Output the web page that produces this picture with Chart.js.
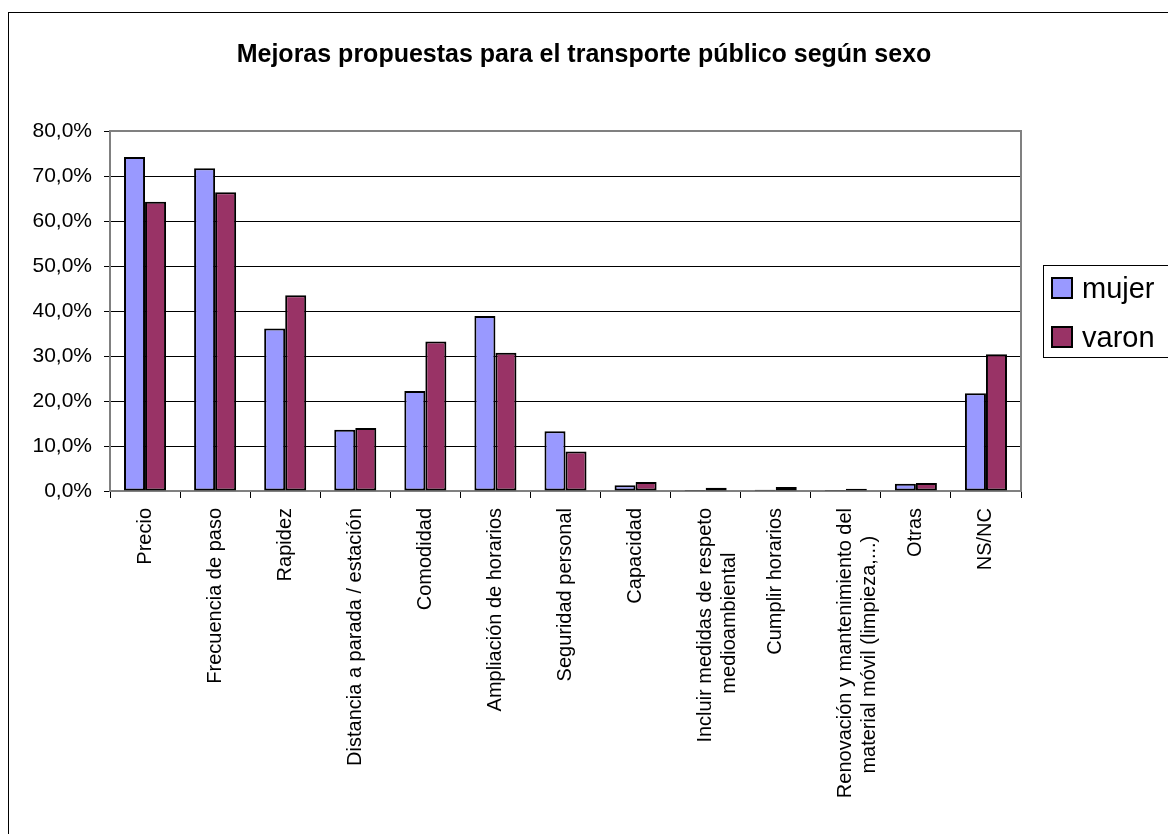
<!DOCTYPE html>
<html>
<head>
<meta charset="utf-8">
<script src="https://cdn.jsdelivr.net/npm/chart.js@4.4.1/dist/chart.umd.min.js"></script>
<style>
  html, body { margin: 0; padding: 0; background: #fff; }
  #wrap { position: relative; width: 1168px; height: 834px; }
</style>
</head>
<body>
<div id="wrap"><canvas id="chart" width="1168" height="834"></canvas></div>
<script>
const categories = [
  "Precio",
  "Frecuencia de paso",
  "Rapidez",
  "Distancia a parada / estación",
  "Comodidad",
  "Ampliación de horarios",
  "Seguridad personal",
  "Capacidad",
  ["Incluir medidas de respeto", "medioambiental"],
  "Cumplir horarios",
  ["Renovación y mantenimiento del", "material móvil (limpieza,...)"],
  "Otras",
  "NS/NC",
];
const mujerValues = [74.2, 71.7, 36.1, 13.6, 22.2, 38.9, 13.3, 1.3, 0.2, 0.3, 0.2, 1.6, 21.7];
const varonValues = [64.3, 66.4, 43.5, 14.0, 33.2, 30.7, 8.8, 2.0, 0.7, 0.9, 0.5, 1.8, 30.4];
const seriesNames = ["mujer", "varon"];
const seriesColors = ["#9999FF", "#993366"];
const yTicks = [0, 10, 20, 30, 40, 50, 60, 70, 80];

const FONT = "'Liberation Sans', Arial, sans-serif";
const xLabelFont = { family: FONT, size: 20 };

// centre the shorter line of a two-line label (Chart.js right-aligns rotated lines)
const measureCtx = document.createElement("canvas").getContext("2d");
measureCtx.font = xLabelFont.size + "px " + FONT;
function centreLines(lines) {
  if (!Array.isArray(lines)) return lines;
  const widths = lines.map((l) => measureCtx.measureText(l).width);
  const max = Math.max(...widths);
  const space = measureCtx.measureText(" ").width;
  return lines.map((l, i) => l + " ".repeat(Math.round((max - widths[i]) / 2 / space)));
}

const frame = {
  id: "frame",
  beforeDraw(chart) {
    const c = chart.ctx;
    c.save();
    c.fillStyle = "#fff";
    c.fillRect(0, 0, chart.width, chart.height);
    c.strokeStyle = "#000";
    c.lineWidth = 1;
    c.strokeRect(8.5, 12.5, chart.width + 20, chart.height);
    c.restore();
  },
  afterDraw(chart) {
    const c = chart.ctx;
    const a = chart.chartArea;
    c.save();
    c.strokeStyle = "#808080";
    c.lineWidth = 2;
    c.beginPath();
    c.moveTo(a.left, a.top);
    c.lineTo(a.right, a.top);
    c.lineTo(a.right, a.bottom);
    c.stroke();

    // legend box
    c.lineWidth = 1;
    c.strokeStyle = "#000";
    c.strokeRect(1043.5, 265.5, 140, 92);
    c.font = "29px " + FONT;
    c.textBaseline = "alphabetic";
    seriesNames.forEach((name, i) => {
      const y = 278 + i * 49;
      c.fillStyle = seriesColors[i];
      c.fillRect(1052, y, 20, 20);
      c.strokeStyle = "#000";
      c.lineWidth = 2;
      c.strokeRect(1052, y, 20, 20);
      c.fillStyle = "#000";
      c.fillText(name, 1082, y + 20);
    });
    c.restore();
  },
};

new Chart(document.getElementById("chart"), {
  type: "bar",
  data: {
    labels: categories.map(centreLines),
    datasets: [
      { label: seriesNames[0], data: mujerValues, backgroundColor: seriesColors[0] },
      { label: seriesNames[1], data: varonValues, backgroundColor: seriesColors[1] },
    ],
  },
  options: {
    responsive: false,
    animation: false,
    layout: { padding: 0 },
    datasets: {
      bar: {
        borderColor: "#000",
        borderWidth: 2,
        borderSkipped: false,
        categoryPercentage: 0.6,
        barPercentage: 1.0,
      },
    },
    plugins: {
      legend: { display: false },
      tooltip: { enabled: false },
      title: {
        display: true,
        text: "Mejoras propuestas para el transporte público según sexo",
        color: "#000",
        font: { family: FONT, size: 25, weight: "bold" },
        padding: { top: 40, bottom: 61 },
      },
    },
    scales: {
      x: {
        grid: {
          offset: true,
          drawOnChartArea: false,
          drawTicks: true,
          tickLength: 7,
          color: "#000",
        },
        border: { color: "#808080", width: 2 },
        ticks: {
          color: "#000",
          font: xLabelFont,
          minRotation: 90,
          maxRotation: 90,
          autoSkip: false,
          padding: 10,
        },
        afterFit(scale) {
          scale.height = 343;
        },
      },
      y: {
        min: 0,
        max: 80,
        afterBuildTicks(scale) {
          scale.ticks = yTicks.map((v) => ({ value: v }));
        },
        grid: {
          color: (ctx) => (ctx.tick && ctx.tick.value === 80 ? "#808080" : "#000"),
          tickLength: 6,
          tickColor: "#000",
        },
        border: { color: "#808080", width: 2 },
        ticks: {
          color: "#000",
          font: { family: FONT, size: 21 },
          padding: 12,
          callback: (v) => v.toFixed(1).replace(".", ",") + "%",
        },
        afterFit(scale) {
          scale.width = 110;
        },
      },
      // empty right-hand axis that only reserves room for the legend
      legendSpace: {
        type: "linear",
        position: "right",
        display: true,
        grid: { display: false },
        border: { display: false },
        ticks: { display: false },
        afterFit(scale) {
          scale.width = 147;
        },
      },
    },
  },
  plugins: [frame],
});
</script>
</body>
</html>
